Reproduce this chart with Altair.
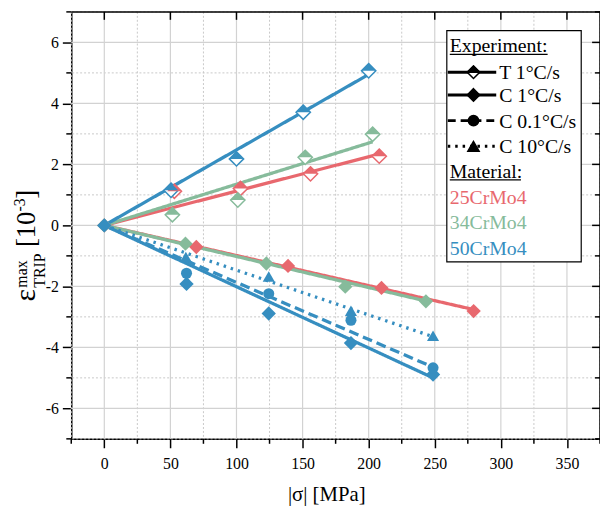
import altair as alt
import pandas as pd

# ---------------- data ----------------
materials = ["25CrMo4", "34CrMo4", "50CrMo4"]
colors = ["#E8686E", "#86BB9B", "#368EC0"]
experiments = ["T 1°C/s", "C 1°C/s", "C 0.1°C/s", "C 10°C/s"]

# T 1°C/s (half filled diamonds)
red_T_x = [53, 103, 156, 208]
red_T_y = [1.12, 1.21, 1.69, 2.27]
green_T_x = [51.5, 101, 152, 203]
green_T_y = [0.35, 0.83, 2.23, 2.99]
blue_T_x = [50.5, 100, 150.5, 200]
blue_T_y = [1.15, 2.18, 3.71, 5.07]

# C 1°C/s (filled diamonds)
red_C1_x = [0, 69.6, 139, 209.7, 279.4]
red_C1_y = [0, -0.71, -1.33, -2.05, -2.81]
green_C1_x = [0, 61.4, 122.6, 182.3, 243.3]
green_C1_y = [0, -0.60, -1.25, -2.01, -2.49]
blue_C1_x = [0, 62.2, 124.4, 186.6, 248.7]
blue_C1_y = [0, -1.92, -2.89, -3.86, -4.89]

# C 0.1°C/s (circles) and C 10°C/s (triangles), 50CrMo4 only
blue_C01_x = [62.2, 124.4, 186.6, 248.7]
blue_C01_y = [-1.57, -2.24, -3.11, -4.67]
blue_C10_x = [61.7, 124.4, 186.6, 248.7]
blue_C10_y = [-1.04, -1.68, -2.80, -3.62]

# fitted lines (start / end points)
fit_x = {("25CrMo4", "T 1°C/s"): [0, 208], ("34CrMo4", "T 1°C/s"): [0, 203],
         ("50CrMo4", "T 1°C/s"): [0, 200], ("25CrMo4", "C 1°C/s"): [0, 279.4],
         ("34CrMo4", "C 1°C/s"): [0, 243.3], ("50CrMo4", "C 1°C/s"): [0, 248.7],
         ("50CrMo4", "C 0.1°C/s"): [0, 248.7], ("50CrMo4", "C 10°C/s"): [0, 248.7]}
fit_y = {("25CrMo4", "T 1°C/s"): [0, 2.34], ("34CrMo4", "T 1°C/s"): [0, 2.74],
         ("50CrMo4", "T 1°C/s"): [0, 4.95], ("25CrMo4", "C 1°C/s"): [0, -2.76],
         ("34CrMo4", "C 1°C/s"): [0, -2.48], ("50CrMo4", "C 1°C/s"): [0, -5.0],
         ("50CrMo4", "C 0.1°C/s"): [0, -4.65], ("50CrMo4", "C 10°C/s"): [0, -3.65]}

x_major = [0, 50, 100, 150, 200, 250, 300, 350]
x_minor = [-25, 25, 75, 125, 175, 225, 275, 325, 375]
y_major = [-6, -4, -2, 0, 2, 4, 6]
y_minor = [-7, -5, -3, -1, 1, 3, 5, 7]

# ---------------- tables ----------------
def pts(m, e, xs, ys):
    return [{"x": a, "y": b, "material": m, "exp": e} for a, b in zip(xs, ys)]

t_pts = pd.DataFrame(pts("25CrMo4", "T", red_T_x, red_T_y) + pts("34CrMo4", "T", green_T_x, green_T_y)
                     + pts("50CrMo4", "T", blue_T_x, blue_T_y))
c1_pts = pd.DataFrame(pts("25CrMo4", "C1", red_C1_x, red_C1_y) + pts("34CrMo4", "C1", green_C1_x, green_C1_y)
                      + pts("50CrMo4", "C1", blue_C1_x, blue_C1_y))
c01_pts = pd.DataFrame(pts("50CrMo4", "C01", blue_C01_x, blue_C01_y))
c10_pts = pd.DataFrame(pts("50CrMo4", "C10", blue_C10_x, blue_C10_y))

fit_rows = []
for key in fit_x:
    for a, b in zip(fit_x[key], fit_y[key]):
        fit_rows.append({"x": a, "y": b, "material": key[0], "exp": key[1],
                         "series": key[0] + key[1]})
fits = pd.DataFrame(fit_rows)

W, H = 535, 432
FONT = "Liberation Serif"
xs = alt.Scale(domain=[-25, 375], nice=False, zero=False)
ys = alt.Scale(domain=[-7, 7], nice=False, zero=False)
col = alt.Color("material:N", scale=alt.Scale(domain=materials, range=colors), legend=None)

axis_common = dict(tickColor="black", tickWidth=1.5, tickSize=9, domainColor="black", domainWidth=1.5,
                   labelFont=FONT, labelFontSize=16, labelColor="black", grid=False,
                   labelExpr="'' + datum.value")
XAX = alt.Axis(values=x_major, labelPadding=8, title="|σ| [MPa]",
               titleFont=FONT, titleFontSize=21, titleFontWeight="normal",
               titleColor="black", titleX=258, titleY=56, titleBaseline="middle", **axis_common)
YAX = alt.Axis(values=y_major, labelPadding=4, title=None, **axis_common)

def X(f):
    return alt.X(f, scale=xs, axis=XAX)

def Y(f):
    return alt.Y(f, scale=ys, axis=YAX)

DIAMOND = "M0,-1L1,0L0,1L-1,0Z"
TOPHALF = "M-1,0L0,-1L1,0Z"
DS, CS, TS = 210, 125, 150

def df(vals):
    return pd.DataFrame({"v": vals})

# grid
grid_xmaj = alt.Chart(df(x_major)).mark_rule(color="#d2d2d2", strokeWidth=1.2).encode(x=X("v:Q"))
grid_xmin = alt.Chart(df(x_minor)).mark_rule(color="#c8c8c8", strokeWidth=1, strokeDash=[2, 2]).encode(x=X("v:Q"))
grid_ymaj = alt.Chart(df(y_major)).mark_rule(color="#d2d2d2", strokeWidth=1.2).encode(y=Y("v:Q"))
grid_ymin = alt.Chart(df(y_minor)).mark_rule(color="#c8c8c8", strokeWidth=1, strokeDash=[2, 2]).encode(y=Y("v:Q"))

blk = dict(color="black", strokeWidth=1.5)
xmin_ticks = alt.Chart(df(x_minor)).mark_rule(**blk).encode(x=X("v:Q"), y=alt.value(H), y2=alt.value(H + 5))
ymin_ticks = alt.Chart(df(y_minor)).mark_rule(**blk).encode(y=Y("v:Q"), x=alt.value(0), x2=alt.value(-5))
top_line = alt.Chart(df([0])).mark_rule(**blk).encode(x=alt.value(0), x2=alt.value(W), y=alt.value(0))
right_line = alt.Chart(df([0])).mark_rule(**blk).encode(x=alt.value(W), y=alt.value(0), y2=alt.value(H))
top_ticks = alt.Chart(df(x_major)).mark_rule(**blk).encode(x=X("v:Q"), y=alt.value(0), y2=alt.value(8))
right_maj = alt.Chart(df(y_major)).mark_rule(**blk).encode(y=Y("v:Q"), x=alt.value(W), x2=alt.value(W - 8))
right_min = alt.Chart(df(y_minor)).mark_rule(**blk).encode(y=Y("v:Q"), x=alt.value(W), x2=alt.value(W - 5))

# fitted lines
lines = alt.Chart(fits).mark_line(strokeWidth=3.3).encode(
    x=X("x:Q"), y=Y("y:Q"), color=col, detail="series:N",
    strokeDash=alt.StrokeDash("exp:N", scale=alt.Scale(domain=experiments, range=[[1, 0], [1, 0], [10, 5], [2.5, 5]]), legend=None),
)

t_open = alt.Chart(t_pts).mark_point(shape=DIAMOND, size=DS, filled=True, fill="white", strokeWidth=1.5, opacity=1).encode(
    x=X("x:Q"), y=Y("y:Q"), stroke=alt.Stroke("material:N", scale=alt.Scale(domain=materials, range=colors), legend=None))
t_half = alt.Chart(t_pts).mark_point(shape=TOPHALF, size=DS, filled=True, opacity=1).encode(x=X("x:Q"), y=Y("y:Q"), color=col)
c1 = alt.Chart(c1_pts).mark_point(shape=DIAMOND, size=DS, filled=True, opacity=1).encode(x=X("x:Q"), y=Y("y:Q"), color=col)
c01 = alt.Chart(c01_pts).mark_point(shape="circle", size=CS, filled=True, opacity=1).encode(x=X("x:Q"), y=Y("y:Q"), color=col)
c10 = alt.Chart(c10_pts).mark_point(shape="triangle-up", size=TS, filled=True, opacity=1).encode(x=X("x:Q"), y=Y("y:Q"), color=col)

# y-axis title built from pieces (rotated)
def ytxt(t, x, y, size):
    return alt.Chart(df([0])).mark_text(text=t, font=FONT, fontSize=size, angle=270, align="left",
                                        baseline="alphabetic", color="black").encode(x=alt.value(x), y=alt.value(y))
ytitle = [ytxt("ε", -37, 293, 30), ytxt("max", -45, 279, 16), ytxt("TRIP", -27, 279, 16),
          ytxt("[10", -37, 238, 27), ytxt("-3", -47, 202, 16), ytxt("]", -37, 189, 27)]

# legend
LX0, LX1, LY0, LY1 = 380, 516, 19, 253
box = alt.Chart(df([0])).mark_rect(fill="white", stroke="black", strokeWidth=1.2).encode(
    x=alt.value(LX0), x2=alt.value(LX1), y=alt.value(LY0), y2=alt.value(LY1))

def ltxt(t, x, y, c="black"):
    return alt.Chart(df([0])).mark_text(text=t, font=FONT, fontSize=20, align="left", baseline="alphabetic", color=c).encode(
        x=alt.value(x), y=alt.value(y))

def lrule(x0, x1, y, dash=None, w=3):
    kw = dict(color="black", strokeWidth=w)
    if dash:
        kw["strokeDash"] = dash
    return alt.Chart(df([0])).mark_rule(**kw).encode(x=alt.value(x0), x2=alt.value(x1), y=alt.value(y))

def lsym(shape, x, y, size, fill="black"):
    return alt.Chart(df([0])).mark_point(shape=shape, size=size, filled=True, fill=fill, stroke="black",
                                         strokeWidth=1.5, opacity=1).encode(x=alt.value(x), y=alt.value(y))

rows_y = [61, 84, 110, 136]
legend = [box,
          ltxt("Experiment:", 383, 41), lrule(383, 482, 43, w=1.2),
          lrule(381, 430, rows_y[0]), lsym(DIAMOND, 407, rows_y[0], 160, "white"), lsym(TOPHALF, 407, rows_y[0], 160),
          ltxt(experiments[0], 433, rows_y[0] + 7),
          lrule(381, 430, rows_y[1]), lsym(DIAMOND, 407, rows_y[1], 160),
          ltxt(experiments[1], 433, rows_y[1] + 7),
          lrule(381, 430, rows_y[2], dash=[8, 5]), lsym("circle", 407, rows_y[2], 110),
          ltxt(experiments[2], 433, rows_y[2] + 7),
          lrule(381, 430, rows_y[3], dash=[2.5, 5]), lsym("triangle-up", 407, rows_y[3], 130),
          ltxt(experiments[3], 433, rows_y[3] + 7),
          ltxt("Material:", 383, 168), lrule(383, 455, 170, w=1.2),
          ltxt(materials[0], 383, 194, colors[0]), ltxt(materials[1], 383, 220, colors[1]),
          ltxt(materials[2], 383, 246, colors[2])]

chart = alt.layer(
    grid_xmin, grid_ymin, grid_xmaj, grid_ymaj, xmin_ticks, ymin_ticks,
    lines, t_open, t_half, c1, c01, c10,
    top_line, right_line, top_ticks, right_maj, right_min,
    *ytitle, *legend
).properties(
    width=W, height=H,
    autosize=alt.AutoSizeParams(type="none"),
    padding={"left": 64, "top": 1, "right": 0, "bottom": 66},
).configure_view(stroke=None)

chart.save("out.html", embed_options={"renderer": "svg", "actions": False})
